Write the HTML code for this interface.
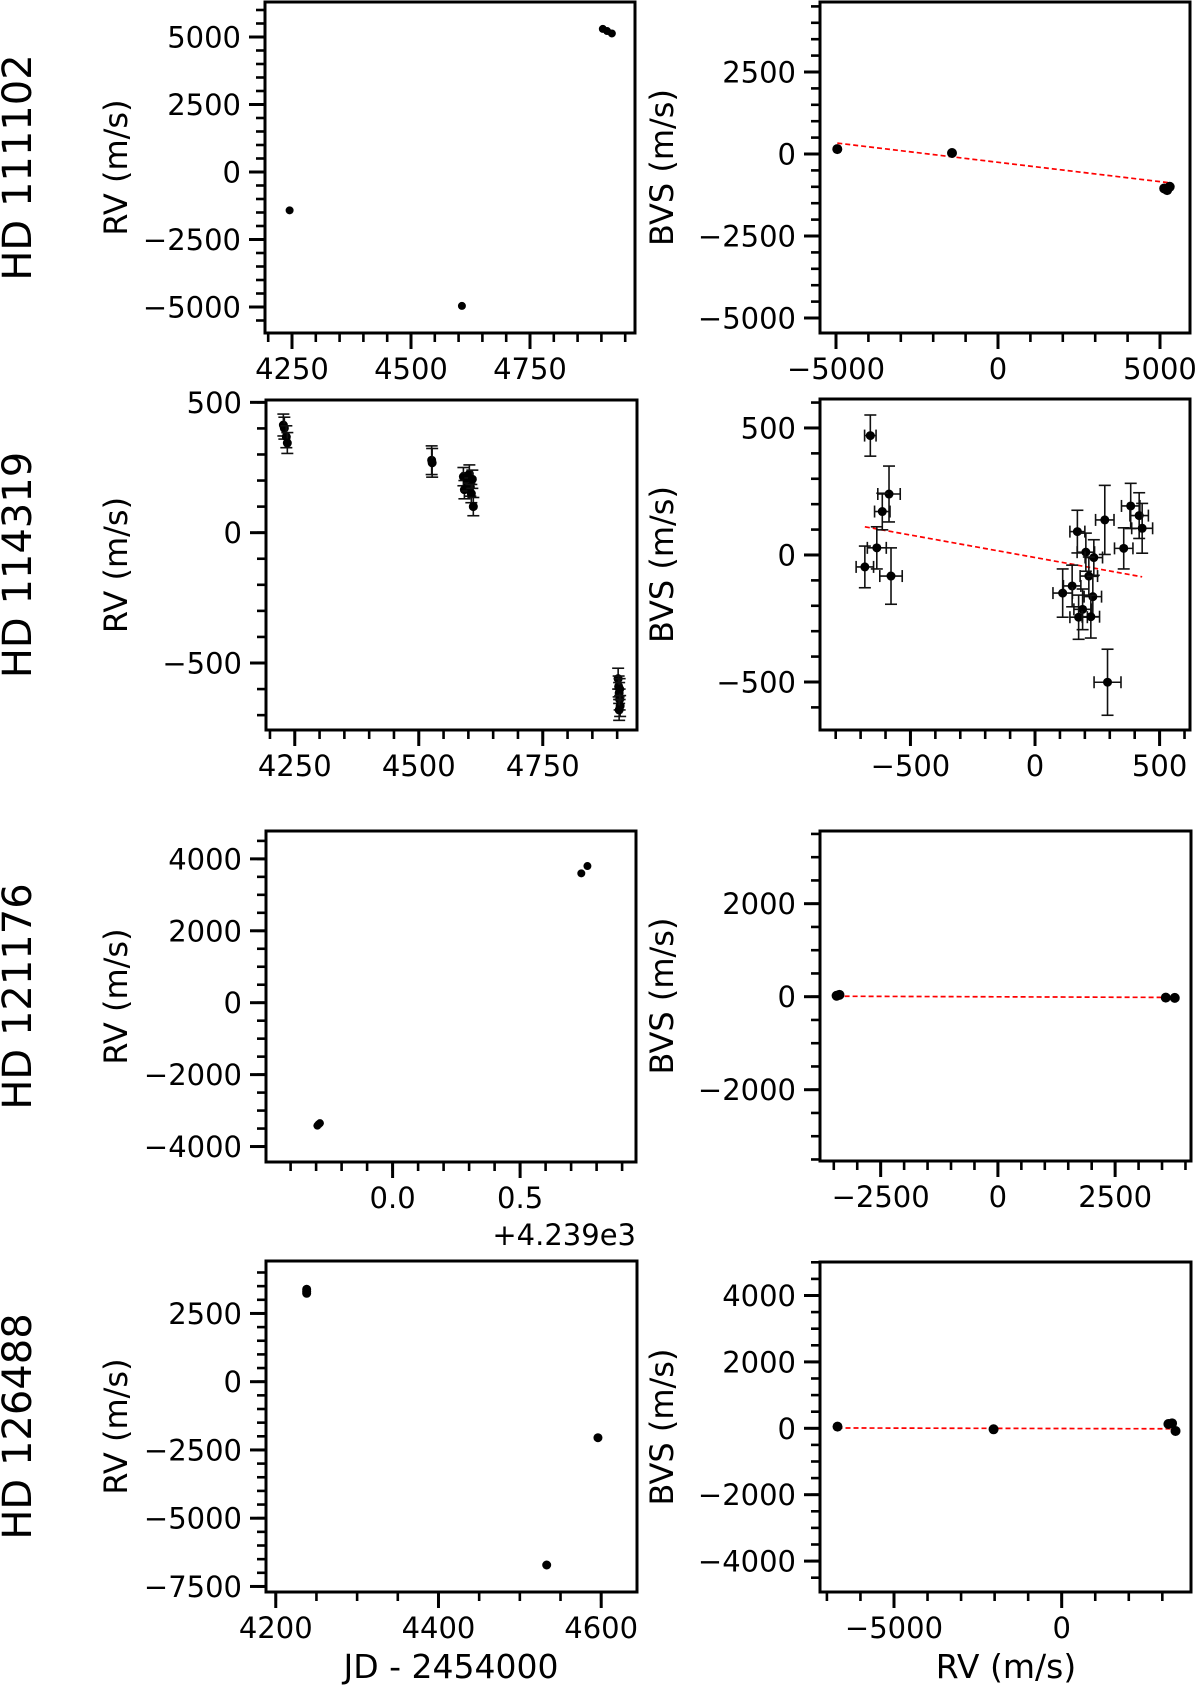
<!DOCTYPE html>
<html><head><meta charset="utf-8"><style>
html,body{margin:0;padding:0;background:#fff;}
svg{display:block;font-family:"DejaVu Sans","Liberation Sans",sans-serif;}
</style></head><body>
<svg id="fig" xmlns="http://www.w3.org/2000/svg" width="1200" height="1690" viewBox="0 0 1200 1690">
<rect width="1200" height="1690" fill="#fff"/>
</svg>
<script>
// ---- Data ----
const starNames = ["HD 111102","HD 114319","HD 121176","HD 126488"];
// Row 1 HD 111102
const r1Time = [4245, 4607, 4903, 4912, 4922];
const r1RV = [-1420, -4960, 5300, 5220, 5130];
const r1BvsRV = [-4960, -1420, 5130, 5220, 5300];
const r1BVS = [150, 30, -1050, -1100, -1000];
const r1Fit = [-253, -0.118];
// Row 2 HD 114319
const r2Time = [4227,4229,4233,4235,4526,4527,4590,4592,4598,4602,4604,4606,4608,4610,4902,4903,4904,4905,4906,4904,4905];
const r2RV = [413,401,368,344,278,268,215,165,195,225,175,150,205,100,-560,-590,-615,-640,-665,-680,-600];
const r2RVErr = [42,42,42,40,55,55,35,35,35,35,35,35,35,35,40,40,40,40,40,40,40];
const r2BvsRV = [-661,-586,-613,-635,-683,-578,170,280,384,418,430,356,204,236,216,149,111,232,191,175,224,291];
const r2BVS = [470,240,171,28,-47,-83,92,138,193,155,105,26,11,-10,-83,-122,-150,-164,-214,-245,-243,-501];
const r2BvsRVErr = [23,45,31,38,35,45,30,37,37,37,42,37,35,35,35,35,39,35,35,35,35,54];
const r2BVSErr = [81,110,72,83,82,111,84,136,89,90,98,81,75,70,75,82,95,80,80,87,84,130];
const r2Fit = [-10, -0.177];
// Row 3 HD 121176 (time offset from 4239)
const r3Time = [-0.295, -0.29, -0.285, 0.74, 0.764];
const r3RV = [-3420, -3380, -3350, 3598, 3800];
const r3BvsRV = [-3440, -3380, 3580, 3772];
const r3BVS = [20, 40, -20, -25];
const r3Fit = [-2.4, -0.0036];
// Row 4 HD 126488
const r4Time = [4238, 4238, 4238, 4533, 4596];
const r4RV = [3385, 3300, 3238, -6714, -2051];
const r4BvsRV = [-6684, -2031, 3181, 3290, 3394];
const r4BVS = [50, -30, 130, 150, -80];
const r4Fit = [-6.6, -0.00248];
// Tick values
const r1LxTicks = [4250, 4500, 4750];
const r1LyTicks = [-5000, -2500, 0, 2500, 5000];
const r1RxTicks = [-5000, 0, 5000];
const r1RyTicks = [-5000, -2500, 0, 2500];
const r2LyTicks = [-500, 0, 500];
const r2RxTicks = [-500, 0, 500];
const r2RyTicks = [-500, 0, 500];
const r3LxTicks = [0.0, 0.5];
const r3LxLabels = ["0.0", "0.5"];
const r3LyTicks = [-4000, -2000, 0, 2000, 4000];
const r3RxTicks = [-2500, 0, 2500];
const r3RyTicks = [-2000, 0, 2000];
const r4LxTicks = [4200, 4400, 4600];
const r4LyTicks = [-7500, -5000, -2500, 0, 2500];
const r4RxTicks = [-5000, 0];
const r4RyTicks = [-4000, -2000, 0, 2000, 4000];

const NS = "http://www.w3.org/2000/svg";
const svg = document.getElementById('fig');
function mk(tag, attrs, parent) {
  const e = document.createElementNS(NS, tag);
  for (const k in attrs) e.setAttribute(k, attrs[k]);
  (parent || svg).appendChild(e);
  return e;
}
function fmt(v) { return (v < 0 ? "\u2212" : "") + Math.abs(v); }

function panel(p) {
  const g = mk('g', {});
  
  
  const sx = v => p.bx0 + (v - p.xmin) / (p.xmax - p.xmin) * (p.bx1 - p.bx0);
  const sy = v => p.by1 - (v - p.ymin) / (p.ymax - p.ymin) * (p.by1 - p.by0);
  // minor ticks
  const mx0 = Math.ceil(p.xmin / p.xminor - 1e-9);
  for (let i = mx0; i * p.xminor <= p.xmax + 1e-9; i++) {
    const X = sx(i * p.xminor);
    const t = mk('line', {x1: X, x2: X, y1: p.by1, y2: p.by1 + 9, stroke: '#000', 'stroke-width': 2.6}, g);
    
    
  }
  const my0 = Math.ceil(p.ymin / p.yminor - 1e-9);
  for (let i = my0; i * p.yminor <= p.ymax + 1e-9; i++) {
    const Y = sy(i * p.yminor);
    const t = mk('line', {x1: p.bx0 - 9, x2: p.bx0, y1: Y, y2: Y, stroke: '#000', 'stroke-width': 2.6}, g);
    
    
  }
  // major ticks + labels
  p.xt.forEach((v, i) => {
    const X = sx(v);
    const t = mk('line', {x1: X, x2: X, y1: p.by1, y2: p.by1 + 16, stroke: '#000', 'stroke-width': 3}, g);
    
    
    const l = mk('text', {x: X, y: p.by1 + 46, 'text-anchor': 'middle', 'font-size': 29}, g);
    l.textContent = p.xl ? p.xl[i] : fmt(v);
    
    
  });
  p.yt.forEach(v => {
    const Y = sy(v);
    const t = mk('line', {x1: p.bx0 - 16, x2: p.bx0, y1: Y, y2: Y, stroke: '#000', 'stroke-width': 3}, g);
    
    
    const l = mk('text', {x: p.bx0 - 24, y: Y + 10.5, 'text-anchor': 'end', 'font-size': 29}, g);
    l.textContent = fmt(v);
    
    
  });
  // fit line
  if (p.fit) {
    const xa = Math.min(...p.dx), xb = Math.max(...p.dx);
    const f = v => p.fit[0] + p.fit[1] * v;
    const fl = mk('line', {x1: sx(xa), y1: sy(f(xa)), x2: sx(xb), y2: sy(f(xb)), stroke: '#ff0000', 'stroke-width': 1.7, 'stroke-dasharray': '5,3'}, g);
    
    
  }
  // points
  p.dx.forEach((v, i) => {
    const X = sx(v), Y = sy(p.dy[i]);
    if (p.ey) {
      const e = p.ey[i];
      const a = mk('line', {x1: X, x2: X, y1: sy(p.dy[i] + e), y2: sy(p.dy[i] - e), stroke: '#111', 'stroke-width': 1.6}, g);
      
      
      [p.dy[i] + e, p.dy[i] - e].forEach(c => {
        const cp = mk('line', {x1: X - 6, x2: X + 6, y1: sy(c), y2: sy(c), stroke: '#111', 'stroke-width': 1.6}, g);
        
        
      });
    }
    if (p.ex) {
      const e = p.ex[i];
      const a = mk('line', {x1: sx(v - e), x2: sx(v + e), y1: Y, y2: Y, stroke: '#111', 'stroke-width': 1.6}, g);
      
      
      [v - e, v + e].forEach(c => {
        const cp = mk('line', {x1: sx(c), x2: sx(c), y1: Y - 6, y2: Y + 6, stroke: '#111', 'stroke-width': 1.6}, g);
        
        
      });
    }
    const c = mk('circle', {cx: X, cy: Y, r: p.r || 4.5, fill: '#000'}, g);
    
    
  });
  // frame
  const fr = mk('rect', {x: p.bx0, y: p.by0, width: p.bx1 - p.bx0, height: p.by1 - p.by0, fill: 'none', stroke: '#000', 'stroke-width': 3}, g);
  
  
  // axis label
  const cy = (p.by0 + p.by1) / 2;
  const yl = mk('text', {x: p.labX, y: cy, 'text-anchor': 'middle', 'font-size': 32, transform: `rotate(-90 ${p.labX} ${cy})`}, g);
  yl.textContent = p.ylab;
  
  
}

const rows = [
  {by0: 2, by1: 333}, {by0: 400, by1: 730}, {by0: 831, by1: 1162}, {by0: 1261, by1: 1592}
];
// row labels
rows.forEach((r, i) => {
  const cy = (r.by0 + r.by1) / 2;
  const t = mk('text', {x: 31, y: cy, 'text-anchor': 'middle', 'font-size': 40, transform: `rotate(-90 31 ${cy})`});
  t.textContent = starNames[i];
  
  
});

panel({name:'hd111102-rv-panel', bx0:265, bx1:635, by0:2, by1:333, xmin:4193.3, xmax:4970.6, ymin:-5963, ymax:6296,
  xt:r1LxTicks, xminor:50, yt:r1LyTicks, yminor:500, dx:r1Time, dy:r1RV, ylab:'RV (m/s)', labX:127, r:4});
panel({name:'hd111102-bvs-panel', bx0:820, bx1:1190, by0:2, by1:333, xmin:-5494, xmax:5926, ymin:-5457, ymax:4634,
  xt:r1RxTicks, xminor:1000, yt:r1RyTicks, yminor:500, dx:r1BvsRV, dy:r1BVS, fit:r1Fit, ylab:'BVS (m/s)', labX:673, r:5});
panel({name:'hd114319-rv-panel', bx0:266, bx1:637, by0:400, by1:730, xmin:4192, xmax:4940, ymin:-757, ymax:509,
  xt:r1LxTicks, xminor:50, yt:r2LyTicks, yminor:100, dx:r2Time, dy:r2RV, ey:r2RVErr, ylab:'RV (m/s)', labX:127, r:4.5});
panel({name:'hd114319-bvs-panel', bx0:820, bx1:1190, by0:399, by1:730, xmin:-863, xmax:622, ymin:-689, ymax:614,
  xt:r2RxTicks, xminor:100, yt:r2RyTicks, yminor:100, dx:r2BvsRV, dy:r2BVS, ex:r2BvsRVErr, ey:r2BVSErr, fit:r2Fit, ylab:'BVS (m/s)', labX:673, r:4.5});
panel({name:'hd121176-rv-panel', bx0:266, bx1:636, by0:831, by1:1162, xmin:-0.4965, xmax:0.9545, ymin:-4430, ymax:4775,
  xt:r3LxTicks, xl:r3LxLabels, xminor:0.1, yt:r3LyTicks, yminor:500, dx:r3Time, dy:r3RV, ylab:'RV (m/s)', labX:127, r:4});
panel({name:'hd121176-bvs-panel', bx0:820, bx1:1191, by0:831, by1:1161, xmin:-3794, xmax:4118, ymin:-3533, ymax:3563,
  xt:r3RxTicks, xminor:500, yt:r3RyTicks, yminor:500, dx:r3BvsRV, dy:r3BVS, fit:r3Fit, ylab:'BVS (m/s)', labX:673, r:5});
panel({name:'hd126488-rv-panel', bx0:266, bx1:637, by0:1261, by1:1592, xmin:4188, xmax:4644, ymin:-7703, ymax:4421,
  xt:r4LxTicks, xminor:50, yt:r4LyTicks, yminor:500, dx:r4Time, dy:r4RV, ylab:'RV (m/s)', labX:127, r:4.5});
panel({name:'hd126488-bvs-panel', bx0:820, bx1:1191, by0:1262, by1:1592, xmin:-7206, xmax:3855, ymin:-4931, ymax:5009,
  xt:r4RxTicks, xminor:1000, yt:r4RyTicks, yminor:500, dx:r4BvsRV, dy:r4BVS, fit:r4Fit, ylab:'BVS (m/s)', labX:673, r:5});

const off = mk('text', {x: 636, y: 1245, 'text-anchor': 'end', 'font-size': 29});
off.textContent = '+4.239e3';


const xl1 = mk('text', {x: 451, y: 1678, 'text-anchor': 'middle', 'font-size': 33});
xl1.textContent = 'JD - 2454000';


const xl2 = mk('text', {x: 1006, y: 1678, 'text-anchor': 'middle', 'font-size': 33});
xl2.textContent = 'RV (m/s)';


</script>
</body></html>
